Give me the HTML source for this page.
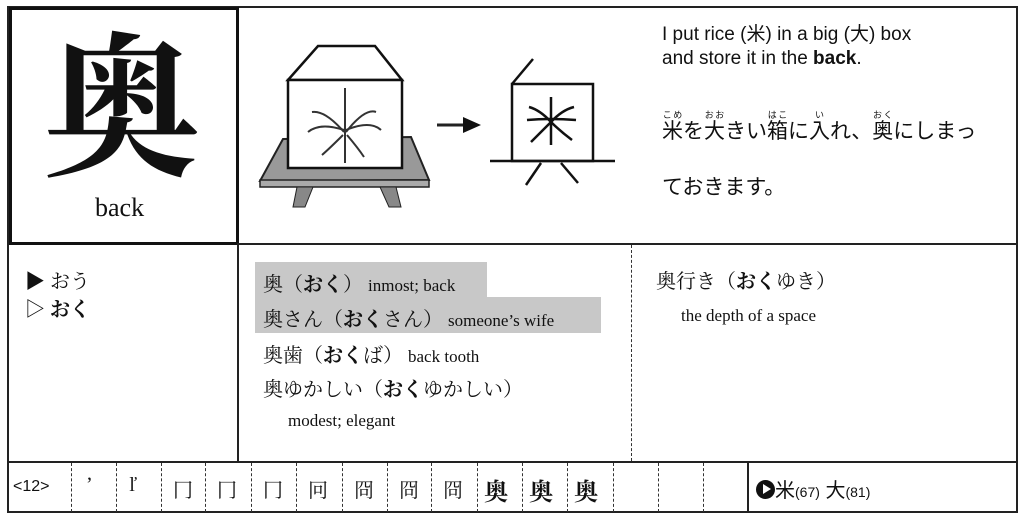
<!DOCTYPE html>
<html><head><meta charset="utf-8"><style>
body{margin:0;width:1023px;height:517px;background:#fff;position:relative;overflow:hidden;font-family:"Liberation Serif","Noto Serif CJK SC",serif;color:#111}
.a{position:absolute;white-space:nowrap}
.l{position:absolute;background:#222}
.jp{font-family:"Liberation Serif","Noto Serif CJK JP",serif}
.sans{font-family:"Liberation Sans","Noto Sans CJK JP",sans-serif}
.dv{position:absolute;top:463px;height:49px;border-left:1.5px dashed #333}
rt{font-size:9px}
</style></head><body>
<div class="l" style="left:8px;top:6px;width:1010px;height:2px"></div>
<div class="l" style="left:1016px;top:6px;width:2px;height:507px"></div>
<div class="l" style="left:7px;top:6px;width:2px;height:507px"></div>
<div class="l" style="left:7px;top:243px;width:1011px;height:2px"></div>
<div class="l" style="left:7px;top:461px;width:1011px;height:2px"></div>
<div class="l" style="left:7px;top:511px;width:1011px;height:2px"></div>
<div style="position:absolute;left:9px;top:7px;width:224px;height:232px;border:3px solid #111"></div>
<div class="a jp" style="left:43px;top:22px;font-size:156px;line-height:180px;font-weight:bold">奥</div>
<div class="a" style="left:95px;top:193px;font-size:26px">back</div>
<div class="l" style="left:237px;top:243px;width:2px;height:219px"></div>
<div style="position:absolute;left:631px;top:245px;height:216px;border-left:1.5px dashed #333"></div>
<svg class="a" style="left:240px;top:0" width="390" height="243" viewBox="240 0 390 243">
<polygon points="283,139 411,137 429,180 260,181" fill="#999" stroke="#222" stroke-width="2"/>
<rect x="260" y="180" width="169" height="7" fill="#aaa" stroke="#222" stroke-width="1.5"/>
<polygon points="297,187 313,187 305,207 293,207" fill="#888" stroke="#222"/>
<polygon points="380,187 396,187 401,207 389,207" fill="#888" stroke="#222"/>
<polygon points="288,80 318,46 375,46 402,80" fill="#fff" stroke="#111" stroke-width="2.5"/>
<rect x="288" y="80" width="114" height="88" fill="#fff" stroke="#111" stroke-width="2.5"/>
<g stroke="#333" stroke-width="2" fill="none">
<line x1="345" y1="88" x2="345" y2="163"/>
<path d="M344 132 Q325 110 312 112"/><path d="M346 132 Q365 108 376 112"/>
<path d="M344 130 Q320 122 308 132"/><path d="M346 130 Q370 120 381 130"/>
<path d="M343 135 Q330 148 322 155"/><path d="M347 135 Q358 148 364 157"/>
</g>
<g stroke="#222" stroke-width="3" fill="none">
<line x1="437" y1="125" x2="466" y2="125"/></g>
<polygon points="463,117 481,125 463,133" fill="#111"/>
<g stroke="#111" stroke-width="2.5" fill="none">
<rect x="512" y="84" width="81" height="77"/>
<line x1="512" y1="84" x2="533" y2="59"/>
<line x1="490" y1="161" x2="615" y2="161"/>
<line x1="541" y1="163" x2="526" y2="185"/>
<line x1="561" y1="163" x2="578" y2="183"/>
<line x1="551" y1="97" x2="551" y2="145"/>
<path d="M527 120 Q550 118 576 120"/>
<path d="M529 107 Q540 110 551 122 Q560 131 572 140"/>
<path d="M574 107 Q562 110 551 122 Q542 131 531 142"/>
</g>
</svg>
<div class="a sans" style="left:662px;top:23px;font-size:19px;line-height:24px">I put rice (米) in a big (大) box<br>and store it in the <b>back</b>.</div>
<div class="a sans" style="left:662px;top:110px;font-size:21px;line-height:40px"><ruby>米<rt>こめ</rt></ruby>を<ruby>大<rt>おお</rt></ruby>きい<ruby>箱<rt>はこ</rt></ruby>に<ruby>入<rt>い</rt></ruby>れ、<ruby>奥<rt>おく</rt></ruby>にしまっ</div>
<div class="a sans" style="left:662px;top:171px;font-size:21px">ておきます。</div>
<div class="a jp" style="left:25px;top:268px;font-size:20px;line-height:28px">▶ おう<br>▷ <b>おく</b></div>
<div style="position:absolute;left:255px;top:262px;width:232px;height:36px;background:#c8c8c8"></div>
<div style="position:absolute;left:255px;top:297px;width:346px;height:36px;background:#c8c8c8"></div>
<div class="a jp" style="left:263px;top:268px;font-size:20px">奥（<b>おく</b>） <span style="font-size:17px">inmost; back</span></div>
<div class="a jp" style="left:263px;top:303px;font-size:20px">奥さん（<b>おく</b>さん） <span style="font-size:17px">someone’s wife</span></div>
<div class="a jp" style="left:263px;top:339px;font-size:20px">奥歯（<b>おく</b>ば） <span style="font-size:17px">back tooth</span></div>
<div class="a jp" style="left:263px;top:373px;font-size:20px">奥ゆかしい（<b>おく</b>ゆかしい）</div>
<div class="a" style="left:288px;top:411px;font-size:17px">modest; elegant</div>
<div class="a jp" style="left:656px;top:265px;font-size:20px">奥行き（<b>おく</b>ゆき）</div>
<div class="a" style="left:681px;top:306px;font-size:17px">the depth of a space</div>
<div class="a sans" style="left:13px;top:478px;font-size:16px">&lt;12&gt;</div>
<div class="dv" style="left:71px"></div><div class="dv" style="left:116px"></div><div class="dv" style="left:161px"></div><div class="dv" style="left:205px"></div><div class="dv" style="left:251px"></div><div class="dv" style="left:296px"></div><div class="dv" style="left:342px"></div><div class="dv" style="left:387px"></div><div class="dv" style="left:431px"></div><div class="dv" style="left:477px"></div><div class="dv" style="left:522px"></div><div class="dv" style="left:567px"></div><div class="dv" style="left:613px"></div><div class="dv" style="left:658px"></div><div class="dv" style="left:703px"></div>
<div class="l" style="left:747px;top:462px;width:2px;height:50px"></div>
<div class="a jp" style="left:86px;top:474px;font-size:20px">ʼ</div>
<div class="a jp" style="left:129px;top:474px;font-size:20px">ľ</div>
<div class="a jp" style="left:173px;top:474px;font-size:20px">冂</div>
<div class="a jp" style="left:217px;top:474px;font-size:20px">冂</div>
<div class="a jp" style="left:263px;top:474px;font-size:20px">冂</div>
<div class="a jp" style="left:308px;top:474px;font-size:20px">冋</div>
<div class="a jp" style="left:354px;top:474px;font-size:20px">冏</div>
<div class="a jp" style="left:399px;top:474px;font-size:20px">冏</div>
<div class="a jp" style="left:443px;top:474px;font-size:20px">冏</div>
<div class="a jp" style="left:484px;top:472px;font-size:24px;font-weight:bold">奥</div>
<div class="a jp" style="left:529px;top:472px;font-size:24px;font-weight:bold">奥</div>
<div class="a jp" style="left:574px;top:472px;font-size:24px;font-weight:bold">奥</div>
<div class="a sans" style="left:756px;top:474px;font-size:20px"><span style="display:inline-block;width:19px;height:19px;border-radius:50%;background:#111;vertical-align:-2px;position:relative"><span style="position:absolute;left:7px;top:4px;border-left:8px solid #fff;border-top:5.5px solid transparent;border-bottom:5.5px solid transparent"></span></span>米<span style="font-size:14px">(67)</span> 大<span style="font-size:14px">(81)</span></div>
</body></html>
